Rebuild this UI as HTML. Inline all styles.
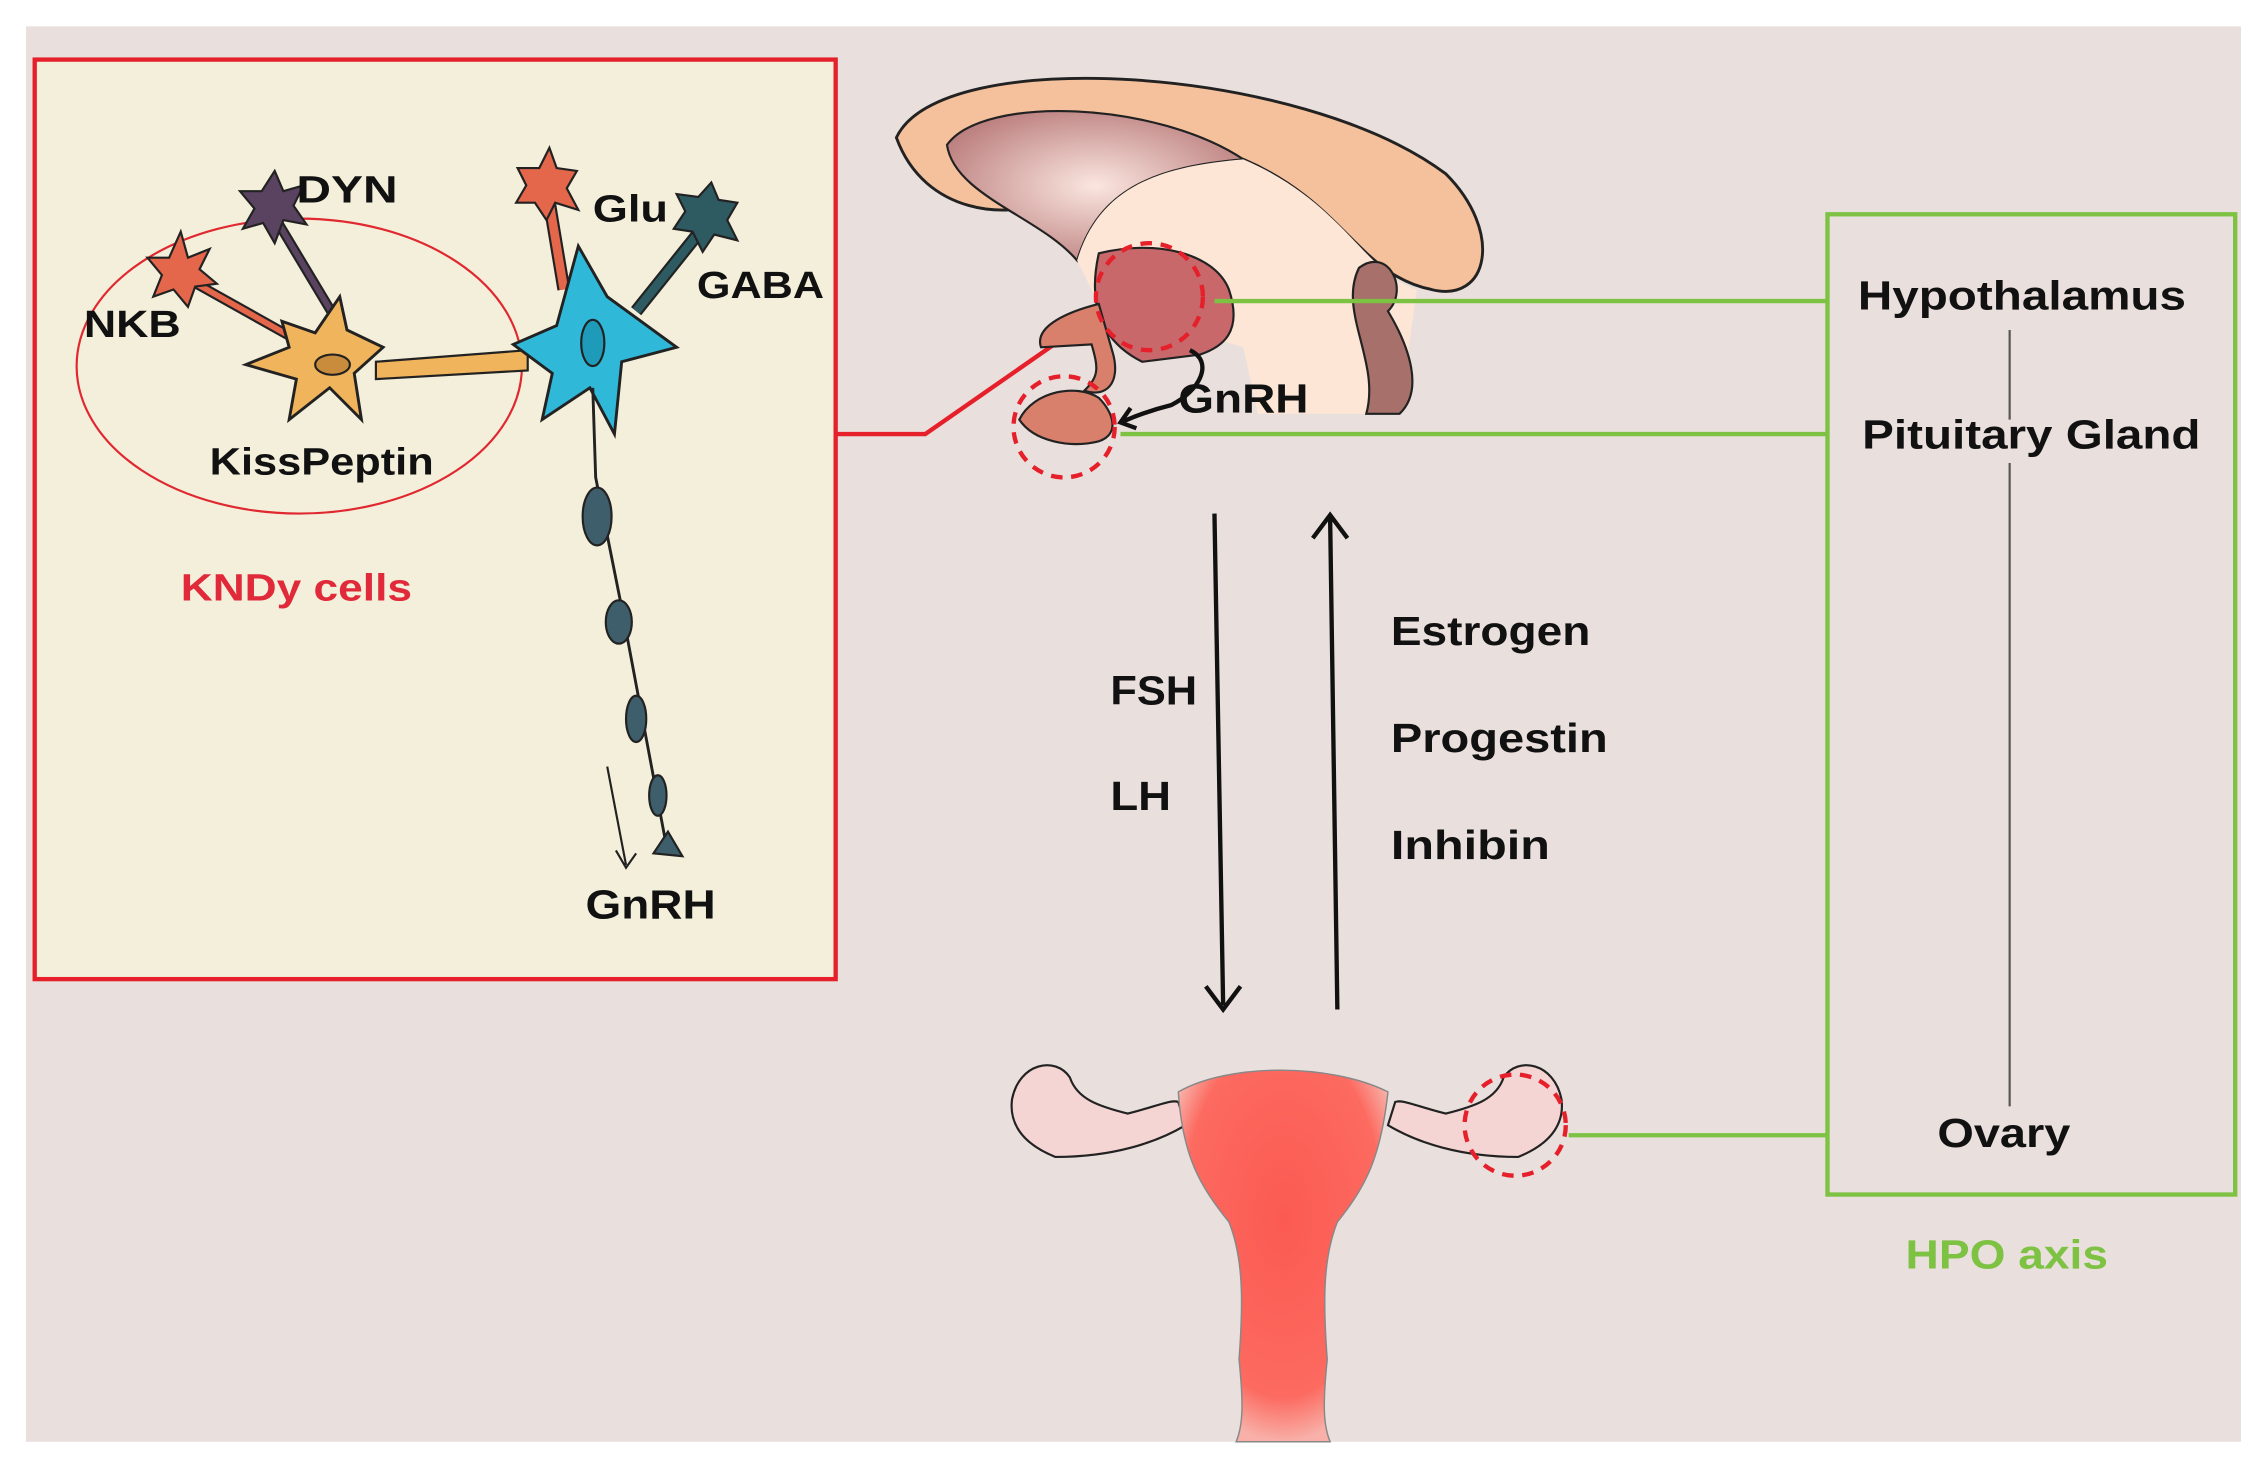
<!DOCTYPE html>
<html><head><meta charset="utf-8"><style>
html,body{margin:0;padding:0;background:#fff;}
svg{display:block;}
text{font-family:"Liberation Sans",sans-serif;font-weight:bold;}
</style></head><body>
<svg width="2267" height="1471" viewBox="0 0 1568 1017" xmlns="http://www.w3.org/2000/svg">
<defs>
<radialGradient id="ut" cx="0.5" cy="0.4" r="0.6"><stop offset="0" stop-color="#fb5a52"/><stop offset="0.8" stop-color="#fc6a60"/><stop offset="1" stop-color="#f8b0a8"/></radialGradient>
<radialGradient id="cc" cx="0.5" cy="0.5" r="0.6"><stop offset="0" stop-color="#fbe6df"/><stop offset="1" stop-color="#b87a7a"/></radialGradient>
</defs>
<rect x="18" y="18" width="1532" height="979" fill="#e9dfdc"/>
<rect x="24" y="41" width="554" height="636" fill="#f4efdb" stroke="#e5202a" stroke-width="3"/>
<polyline points="578,300 640,300 765,213" fill="none" stroke="#e5202a" stroke-width="3"/>
<ellipse cx="207" cy="253" rx="154" ry="102" fill="none" stroke="#e02830" stroke-width="1.5"/>
<path d="M125,190 L200,232" stroke="#222" stroke-width="7"/><path d="M125,190 L200,232" stroke="#e4674b" stroke-width="4"/>
<path d="M190,150 L235,225" stroke="#222" stroke-width="7"/><path d="M190,150 L235,225" stroke="#5a4360" stroke-width="4"/>
<path d="M380,140 L390,200" stroke="#222" stroke-width="9"/><path d="M380,140 L390,200" stroke="#e4674b" stroke-width="6"/>
<path d="M488,155 L440,215" stroke="#222" stroke-width="9"/><path d="M488,155 L440,215" stroke="#2e5a62" stroke-width="6"/>
<path d="M260,250 L365,242 L365,256 L260,262 Z" fill="#f0b45c" stroke="#222" stroke-width="1.5"/>
<polygon points="125,160 130,178 145,172 138,186 150,196 135,198 130,212 120,200 106,205 112,190 102,178 117,178" fill="#e4674b" stroke="#222" stroke-width="1.5"/>
<polygon points="190,118 196,132 210,128 203,142 212,155 196,152 190,168 182,154 168,158 176,144 166,132 181,132" fill="#5a4360" stroke="#222" stroke-width="1.5"/>
<polygon points="380,102 385,116 399,118 392,130 400,145 384,140 378,152 370,140 357,140 364,128 358,116 373,116" fill="#e4674b" stroke="#222" stroke-width="1.5"/>
<polygon points="492,126 497,138 510,140 503,152 510,166 494,162 486,174 479,160 466,158 474,146 468,134 483,136" fill="#2e5a62" stroke="#222" stroke-width="1.5"/>
<polygon points="235,205 240,228 265,240 245,258 250,290 228,268 200,290 205,262 170,252 200,240 195,222 218,230" fill="#f0b45c" stroke="#222" stroke-width="2"/>
<ellipse cx="230" cy="252" rx="12" ry="7" fill="#c98c3c" stroke="#222" stroke-width="1.5"/>
<polygon points="400,170 420,205 468,240 430,250 425,300 408,268 375,290 382,258 355,238 385,225" fill="#2fb8d8" stroke="#222" stroke-width="2"/>
<ellipse cx="410" cy="237" rx="8" ry="16" fill="#1d9bb8" stroke="#222" stroke-width="1.5"/>
<path d="M410,268 L412,330 L430,420 L445,500 L460,580" stroke="#222" stroke-width="2" fill="none"/>
<ellipse cx="413" cy="357" rx="10" ry="20" fill="#3e5e6c" stroke="#222" stroke-width="1.5"/>
<ellipse cx="428" cy="430" rx="9" ry="15" fill="#3e5e6c" stroke="#222" stroke-width="1.5"/>
<ellipse cx="440" cy="497" rx="7" ry="16" fill="#3e5e6c" stroke="#222" stroke-width="1.5"/>
<ellipse cx="455" cy="550" rx="6" ry="14" fill="#3e5e6c" stroke="#222" stroke-width="1.5"/>
<polygon points="452,590 462,575 472,592" fill="#3e5e6c" stroke="#222" stroke-width="1.5"/>
<path d="M420,530 L433,598 M426,588 L433,600 L440,590" stroke="#222" stroke-width="1.5" fill="none"/>
<text x="205" y="140" font-size="26" fill="#111" textLength="70" lengthAdjust="spacingAndGlyphs">DYN</text>
<text x="410" y="153" font-size="26" fill="#111" textLength="52" lengthAdjust="spacingAndGlyphs">Glu</text>
<text x="58" y="233" font-size="26" fill="#111" textLength="67" lengthAdjust="spacingAndGlyphs">NKB</text>
<text x="482" y="206" font-size="26" fill="#111" textLength="88" lengthAdjust="spacingAndGlyphs">GABA</text>
<text x="145" y="328" font-size="26" fill="#111" textLength="155" lengthAdjust="spacingAndGlyphs">KissPeptin</text>
<text x="405" y="635" font-size="28" fill="#111" textLength="90" lengthAdjust="spacingAndGlyphs">GnRH</text>
<text x="125" y="415" font-size="26" fill="#e02a3a" textLength="160" lengthAdjust="spacingAndGlyphs">KNDy cells</text>
<path d="M620,95 C650,30 900,45 1000,120 C1040,160 1030,210 990,200 C940,190 930,140 860,110 C780,80 730,110 720,140 C700,150 640,150 620,95 Z" fill="#f5c09c" stroke="#222" stroke-width="2"/>
<path d="M655,100 C680,65 800,70 860,110 C800,115 760,130 745,180 C720,150 660,135 655,100 Z" fill="url(#cc)" stroke="#222" stroke-width="1.5"/>
<path d="M745,180 C760,130 800,115 860,110 C930,140 945,190 980,200 L968,286 L870,286 L860,240 L760,210 Z" fill="#fde6d6"/>
<path d="M940,185 C960,170 975,200 960,215 C975,240 985,270 968,286 L945,286 C955,250 925,215 940,185 Z" fill="#a8706a" stroke="#222" stroke-width="1.5"/>
<path d="M760,175 C800,165 840,175 850,200 C860,230 845,240 830,245 L790,250 C770,240 750,220 760,175 Z" fill="#c8686a" stroke="#222" stroke-width="1.5"/>
<path d="M760,210 C740,215 715,225 720,240 L755,238 C760,255 760,260 750,270 C765,275 775,265 770,245 Z" fill="#d8806c" stroke="#222" stroke-width="1.5"/>
<path d="M705,290 C715,270 745,265 760,275 C770,285 775,300 760,305 C740,310 715,305 705,290 Z" fill="#d8806c" stroke="#222" stroke-width="1.5"/>
<path d="M823,242 C840,250 830,270 810,280 C790,285 780,290 775,292 M782,282 L775,292 L786,296" stroke="#111" stroke-width="3" fill="none"/>
<circle cx="795" cy="205" r="37" fill="none" stroke="#e5202a" stroke-width="3" stroke-dasharray="8,6"/>
<circle cx="736" cy="295" r="35" fill="none" stroke="#e5202a" stroke-width="3" stroke-dasharray="8,6"/>
<text x="815" y="285" font-size="28" fill="#111" textLength="90" lengthAdjust="spacingAndGlyphs">GnRH</text>
<rect x="1264" y="148" width="282" height="678" fill="none" stroke="#7dc242" stroke-width="3"/>
<path d="M840,208 H1264 M775,300 H1264 M1085,785 H1264" stroke="#7dc242" stroke-width="3"/>
<path d="M1390,228 V290 M1390,320 V765" stroke="#555" stroke-width="1.5"/>
<text x="1285" y="214" font-size="28" fill="#111" textLength="227" lengthAdjust="spacingAndGlyphs">Hypothalamus</text>
<text x="1288" y="310" font-size="28" fill="#111" textLength="234" lengthAdjust="spacingAndGlyphs">Pituitary Gland</text>
<text x="1340" y="793" font-size="28" fill="#111" textLength="92" lengthAdjust="spacingAndGlyphs">Ovary</text>
<text x="1318" y="877" font-size="28" fill="#7dc242" textLength="140" lengthAdjust="spacingAndGlyphs">HPO axis</text>
<path d="M840,355 L846,695 M834,682 L846,698 L858,682" stroke="#111" stroke-width="3" fill="none"/>
<path d="M925,698 L920,358 M908,372 L920,356 L932,372" stroke="#111" stroke-width="3" fill="none"/>
<text x="768" y="487" font-size="28" fill="#111" textLength="60" lengthAdjust="spacingAndGlyphs">FSH</text>
<text x="768" y="560" font-size="28" fill="#111" textLength="42" lengthAdjust="spacingAndGlyphs">LH</text>
<text x="962" y="446" font-size="28" fill="#111" textLength="138" lengthAdjust="spacingAndGlyphs">Estrogen</text>
<text x="962" y="520" font-size="28" fill="#111" textLength="150" lengthAdjust="spacingAndGlyphs">Progestin</text>
<text x="962" y="594" font-size="28" fill="#111" textLength="110" lengthAdjust="spacingAndGlyphs">Inhibin</text>
<path d="M700,760 C705,735 730,730 740,745 C745,760 760,765 780,770 C800,765 810,760 815,762 L820,778 C800,790 770,800 730,800 C705,790 698,775 700,760 Z" fill="#f5d5d3" stroke="#222" stroke-width="1.5"/>
<path d="M1080,760 C1075,735 1050,730 1040,745 C1035,760 1020,765 1000,770 C980,765 970,760 965,762 L960,778 C980,790 1010,800 1050,800 C1075,790 1082,775 1080,760 Z" fill="#f5d5d3" stroke="#222" stroke-width="1.5"/>
<path d="M815,755 C850,735 920,735 960,755 C955,800 945,820 925,845 C915,870 915,900 918,940 C915,970 915,985 920,997 L855,997 C860,985 860,970 857,940 C860,900 860,870 850,845 C830,820 818,800 815,755 Z" fill="url(#ut)" stroke="#888" stroke-width="1"/>
<circle cx="1048" cy="778" r="35" fill="none" stroke="#e5202a" stroke-width="3" stroke-dasharray="8,6"/>
</svg>
</body></html>
